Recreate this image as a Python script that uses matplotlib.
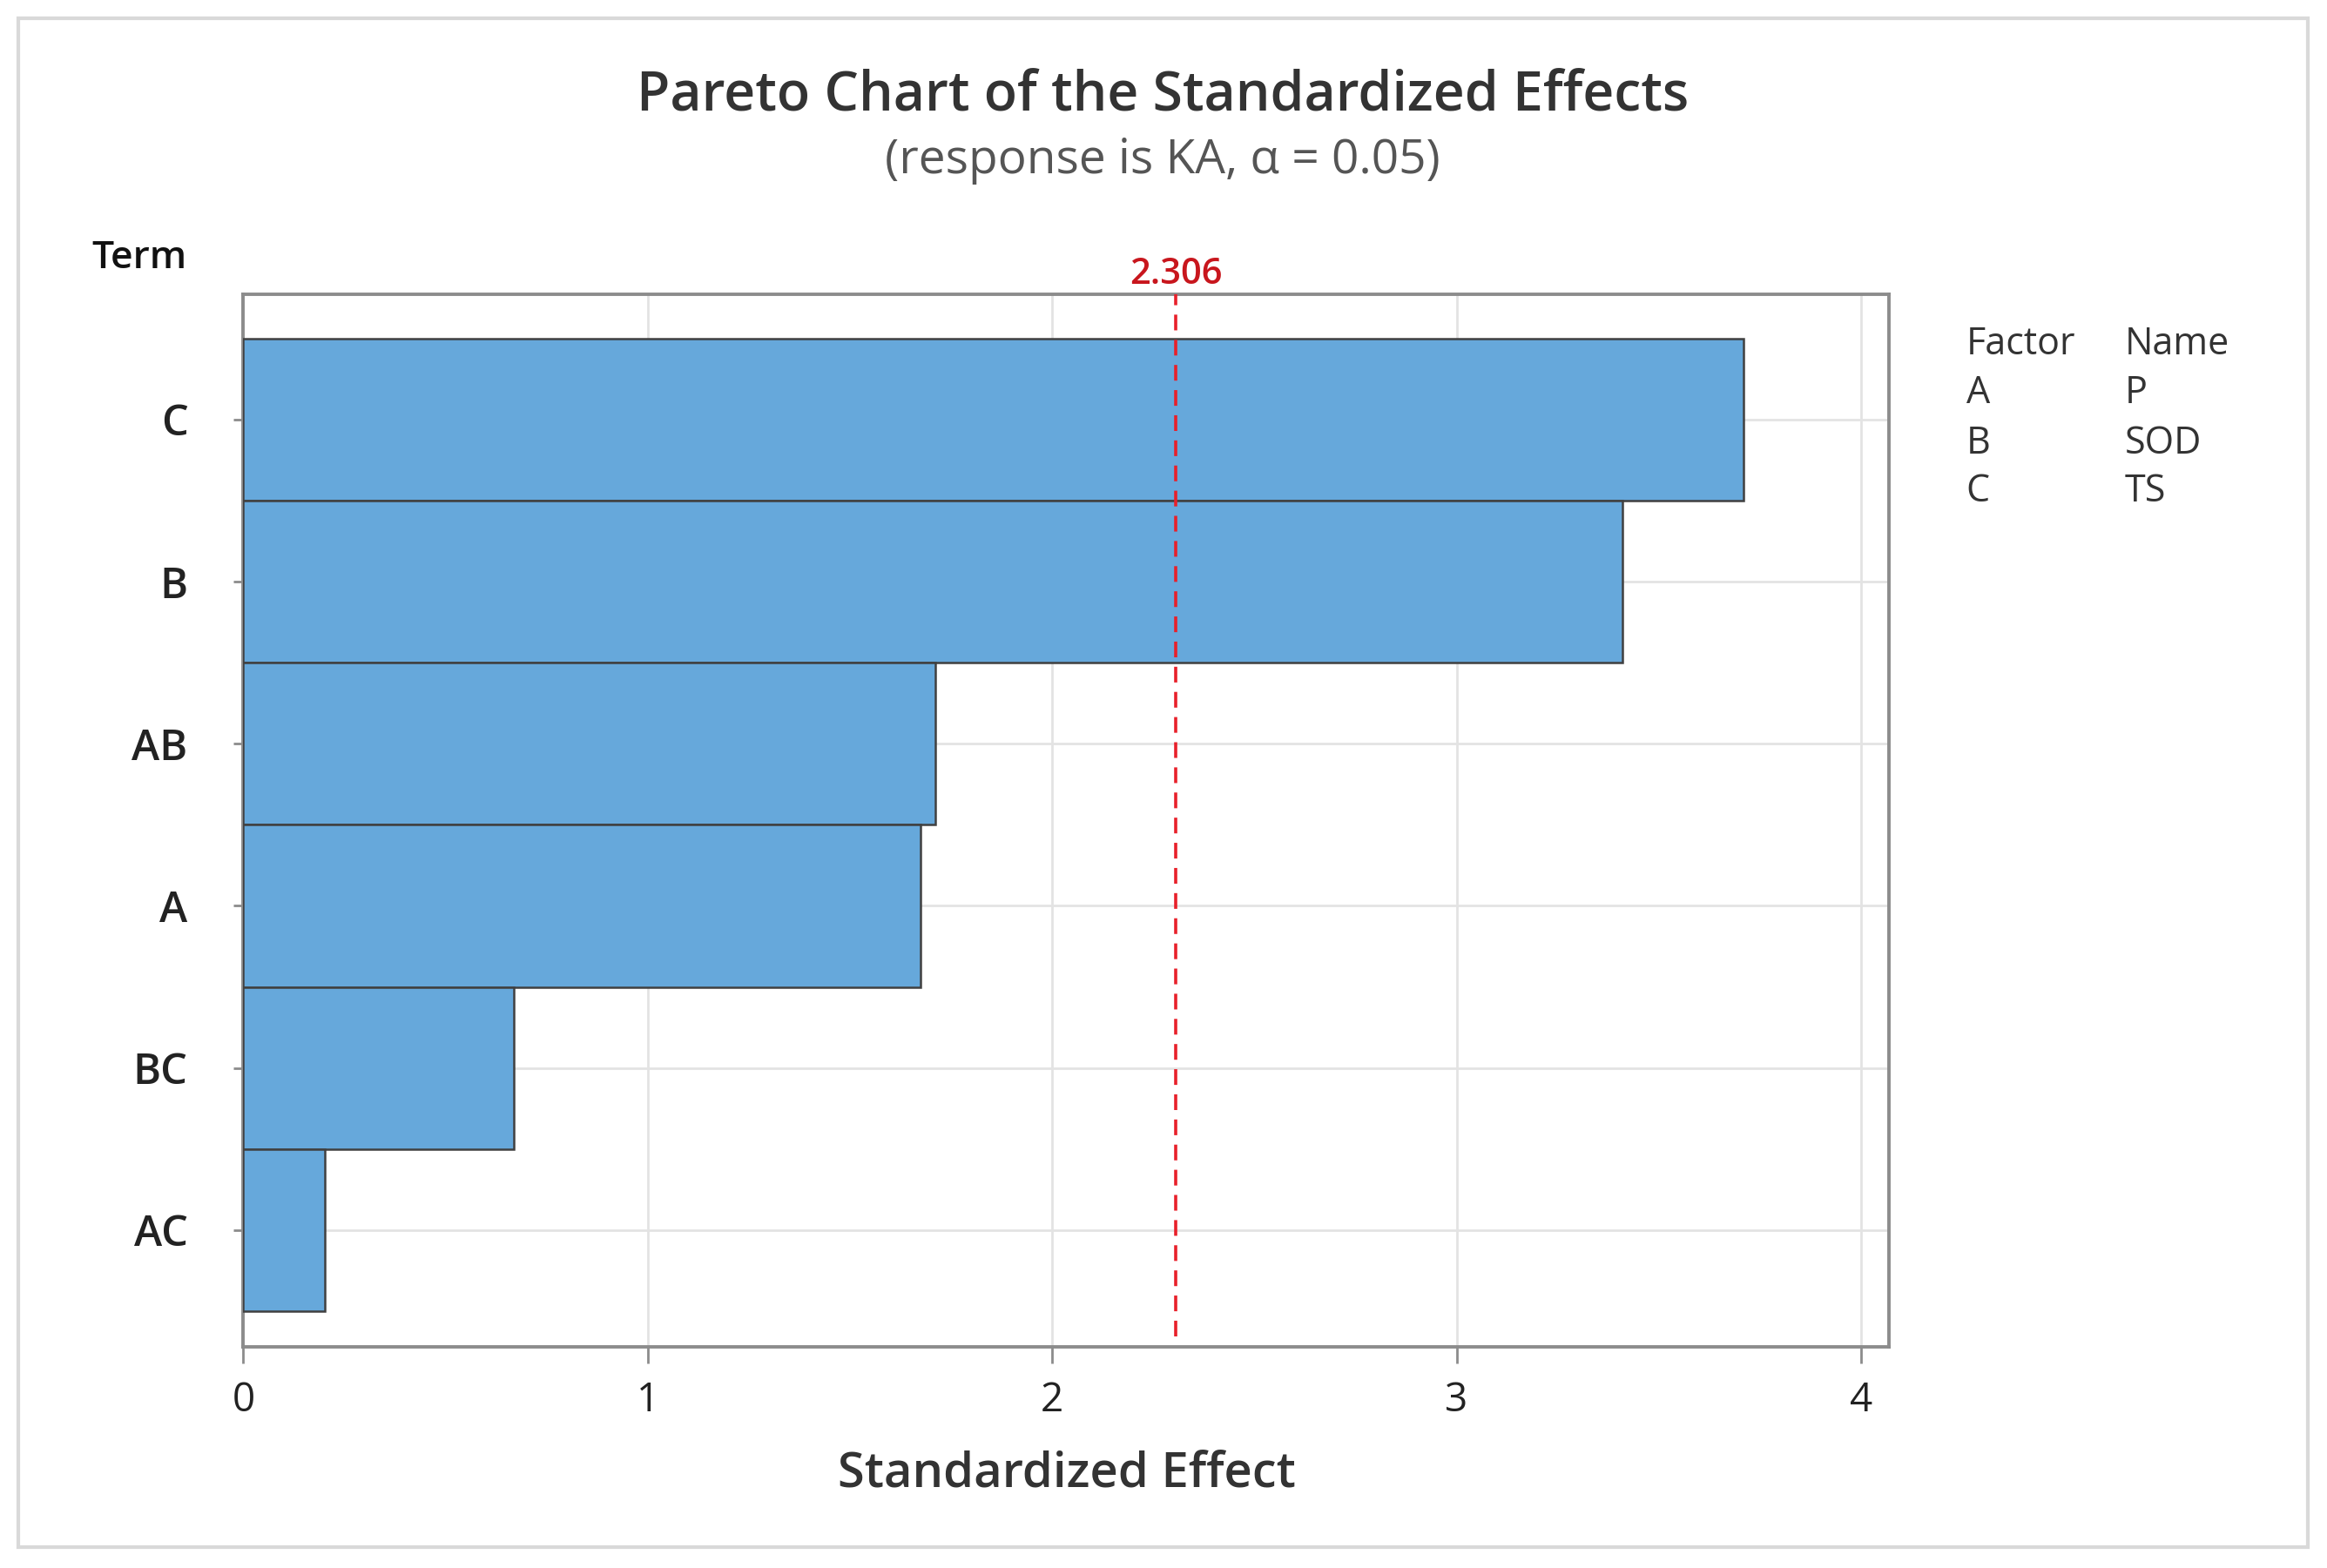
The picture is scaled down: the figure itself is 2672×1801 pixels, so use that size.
import matplotlib
matplotlib.use('Agg')
import matplotlib.pyplot as plt
from matplotlib.patches import Rectangle

plt.rcParams['font.family'] = ['Open Sans', 'DejaVu Sans']

# 数据
terms = ['C', 'B', 'AB', 'A', 'BC', 'AC']
effects = [3.71, 3.41, 1.712, 1.675, 0.668, 0.202]
t_crit = 2.306
factors = ['A', 'B', 'C']
names = ['P', 'SOD', 'TS']
xticks = [0, 1, 2, 3, 4]

fig = plt.figure(figsize=(13.36, 9.005), dpi=200)

# 外框
fig.patches.append(Rectangle((0.0077, 0.0133), 0.984, 0.9753, transform=fig.transFigure,
                             fill=False, edgecolor='#d9d9d9', linewidth=1.5))

ax = fig.add_axes([0.1046, 0.1411, 0.7073, 0.6714])

ypos = list(range(len(terms)))[::-1]
ax.barh(ypos, effects, height=1.0, color='#66a8db', edgecolor='#404040', linewidth=0.9, zorder=3)
ax.axvline(t_crit, ymin=0.01, ymax=1, color='#e8202a', linestyle=(0, (5, 3)), linewidth=1.3, zorder=4)
ax.text(t_crit, 5.785, f'{t_crit:.3f}', color='#c8161d', fontsize=15, fontweight='semibold',
        ha='center', va='bottom')

ax.set_xlim(0, 4.07)
ax.set_ylim(-0.72, 5.775)
ax.set_xticks(xticks)
ax.set_yticks(ypos)
ax.set_yticklabels(terms, fontweight='semibold')
ax.grid(True, color='#e3e3e3', linewidth=1.0, zorder=0)
ax.set_axisbelow(True)
for s in ax.spines.values():
    s.set_color('#8c8c8c')
    s.set_linewidth(1.4)
ax.tick_params(axis='x', length=7, width=1.0, color='#8c8c8c', labelsize=16.5, labelcolor='#222222', pad=7)
ax.tick_params(axis='y', length=4, width=1.0, color='#8c8c8c', labelsize=17.5, labelcolor='#222222', pad=19)
ax.set_xlabel('Standardized Effect', fontsize=20.2, fontweight='semibold', color='#333333', labelpad=12)

fig.text(0.4995, 0.9384, 'Pareto Chart of the Standardized Effects', ha='center', va='center',
         fontsize=22.5, fontweight='semibold', color='#333333')
fig.text(0.4995, 0.8975, '(response is KA, α = 0.05)', ha='center', va='center',
         fontsize=19.8, color='#555555')
fig.text(0.0804, 0.8352, 'Term', ha='right', va='center', fontsize=16, fontweight='semibold', color='#111111')

# 因子表
rows_y = [0.7805, 0.7492, 0.7171, 0.6867]
fig.text(0.845, rows_y[0], 'Factor', ha='left', va='center', fontsize=15.5, color='#333333')
fig.text(0.913, rows_y[0], 'Name', ha='left', va='center', fontsize=15.5, color='#333333')
for f, n, y in zip(factors, names, rows_y[1:]):
    fig.text(0.845, y, f, ha='left', va='center', fontsize=15.5, color='#333333')
    fig.text(0.913, y, n, ha='left', va='center', fontsize=15.5, color='#333333')

fig.savefig('out.png', dpi=200, facecolor='white')
